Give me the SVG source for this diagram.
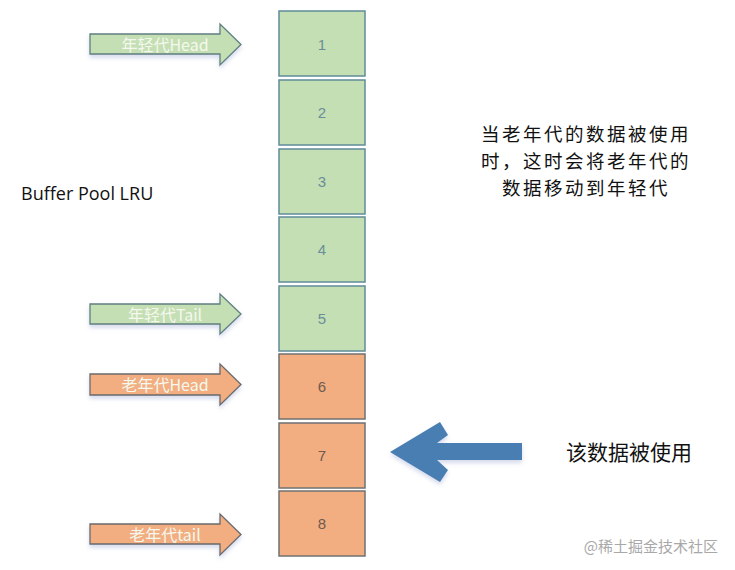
<svg xmlns="http://www.w3.org/2000/svg" width="735" height="570" viewBox="0 0 735 570">
<style>
.g{fill:#c4dfb3;stroke:#5f8c99;stroke-width:1.5}
.o{fill:#f2ae80;stroke:#707070;stroke-width:1.5}
.num{font-family:"Liberation Sans",Arial,sans-serif;font-size:15px;text-anchor:middle;dominant-baseline:central}
.ng{fill:#6b8d9a}
.no{fill:#6e5a50}
.al{font-family:"Noto Sans CJK SC","Liberation Sans",sans-serif;font-size:16px;fill:#f4f8ee;text-anchor:middle;dominant-baseline:central}
.ag{fill:#c4dfb3;stroke:#5f7f80;stroke-width:1.3}
.ao{fill:#f2ae80;stroke:#6a6a6a;stroke-width:1.3}
.t{font-family:"Noto Sans CJK SC",sans-serif;font-size:21px;fill:#111;text-anchor:middle;dominant-baseline:central}
.d{font-family:"Noto Sans CJK SC",sans-serif;font-size:18.5px;letter-spacing:2.5px;fill:#111;text-anchor:middle;dominant-baseline:central}
</style>
<defs>
<filter id="sh" x="-10%" y="-20%" width="120%" height="160%">
<feDropShadow dx="0" dy="3" stdDeviation="2" flood-color="#8899cc" flood-opacity="0.35"/>
</filter>
</defs>
<rect width="735" height="570" fill="#fff"/>
<g id="box1"><rect class="g" x="279" y="11" width="86" height="65"/><text class="num ng" x="322" y="44">1</text></g>
<g id="box2"><rect class="g" x="279" y="80" width="86" height="65"/><text class="num ng" x="322" y="112">2</text></g>
<g id="box3"><rect class="g" x="279" y="149" width="86" height="65"/><text class="num ng" x="322" y="181">3</text></g>
<g id="box4"><rect class="g" x="279" y="217" width="86" height="65"/><text class="num ng" x="322" y="249">4</text></g>
<g id="box5"><rect class="g" x="279" y="286" width="86" height="65"/><text class="num ng" x="322" y="318">5</text></g>
<g id="box6"><rect class="o" x="279" y="354" width="86" height="65"/><text class="num no" x="322" y="386">6</text></g>
<g id="box7"><rect class="o" x="279" y="423" width="86" height="65"/><text class="num no" x="322" y="455">7</text></g>
<g id="box8"><rect class="o" x="279" y="491" width="86" height="65"/><text class="num no" x="322" y="523">8</text></g>
<g id="connectors">
<g id="arrow-young-head"><path class="ag" filter="url(#sh)" d="M90,34 H220 V24 L241,44.5 L220,65 V54 H90 Z"/><text class="al" x="165" y="44">年轻代Head</text></g>
<g id="arrow-young-tail"><path class="ag" filter="url(#sh)" d="M90,304 H220 V294 L241,314 L220,334 V324 H90 Z"/><text class="al" x="165" y="314">年轻代Tail</text></g>
<g id="arrow-old-head"><path class="ao" filter="url(#sh)" d="M90,374 H220 V364 L241,384.5 L220,405 V395 H90 Z"/><text class="al" x="165" y="384">老年代Head</text></g>
<g id="arrow-old-tail"><path class="ao" filter="url(#sh)" d="M90,524 H220 V514 L241,534.5 L220,555 V544 H90 Z"/><text class="al" x="165" y="534">老年代tail</text></g>
<g id="arrow-used"><path fill="#4a7eb3" filter="url(#sh)" d="M390,452 L440,422 L448,435 L437,443 H522 V460 H437 L448,470 L440,482 Z"/></g>
</g>
<g id="label-lru"><text x="21" y="193" font-family="'Open Sans','Liberation Sans',sans-serif" font-size="18" fill="#111" dominant-baseline="central">Buffer Pool LRU</text></g>
<g id="label-desc">
<text class="d" x="586" y="133">当老年代的数据被使用</text>
<text class="d" x="586" y="160">时，这时会将老年代的</text>
<text class="d" x="586" y="187">数据移动到年轻代</text>
</g>
<g id="label-used"><text class="t" x="629" y="451">该数据被使用</text></g>
<text x="718" y="545" text-anchor="end" dominant-baseline="central" font-family="'Noto Sans CJK SC',sans-serif" font-size="15" fill="#a8a8a8">@稀土掘金技术社区</text>
</svg>
